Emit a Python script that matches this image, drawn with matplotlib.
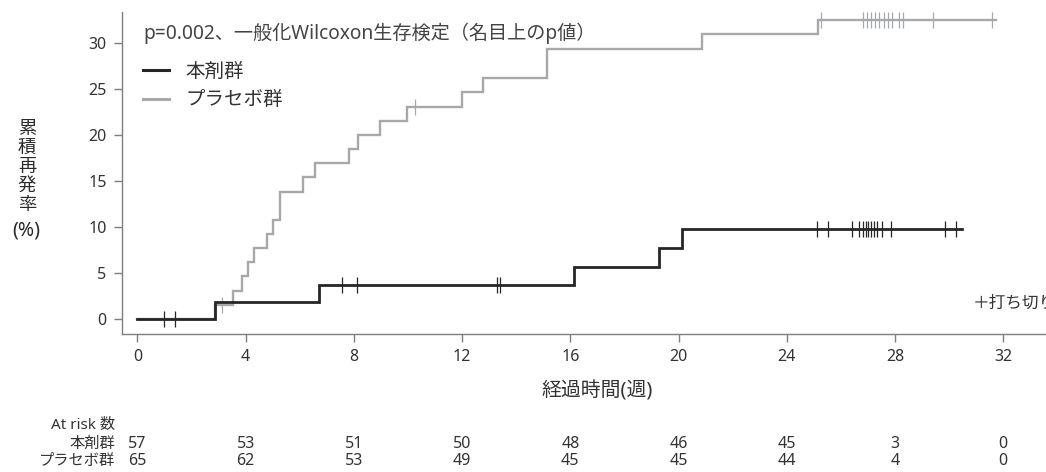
import numpy as np
import matplotlib
matplotlib.use('Agg')
import matplotlib.pyplot as plt
import matplotlib.transforms as mtransforms
from matplotlib.lines import Line2D

plt.rcParams['font.family'] = ['Noto Sans', 'Noto Sans CJK JP', 'DejaVu Sans']

# Kaplan-Meier style cumulative relapse curves (weeks, %)
drug_times = [0, 2.87, 6.71, 16.13, 19.27, 20.14]
drug_levels = [0, 1.82, 3.67, 5.68, 7.73, 9.78]
drug_end = 30.47
drug_censor = [1.0, 1.40, 7.55, 8.11, 13.28, 13.40, 25.11, 25.54, 26.40,
               26.67, 26.81, 26.91, 27.02, 27.12, 27.23, 27.34, 27.51, 27.85,
               29.85, 30.27]

placebo_times = [0, 2.87, 3.55, 3.86, 4.10, 4.31, 4.80, 5.00, 5.27, 6.13,
                 6.57, 7.83, 8.14, 8.97, 9.96, 11.99, 12.79, 15.13, 20.86, 25.15]
placebo_levels = [0, 1.54, 3.08, 4.68, 6.20, 7.72, 9.26, 10.80, 13.86, 15.40,
                  16.94, 18.48, 20.02, 21.56, 23.10, 24.65, 26.20, 29.35, 31.00, 32.50]
placebo_end = 31.75
placebo_censor = [3.12, 10.26, 25.27, 26.83, 26.97, 27.12, 27.27, 27.42, 27.58,
                  27.73, 27.88, 28.13, 28.29, 29.42, 31.58]

risk_weeks = [0, 4, 8, 12, 16, 20, 24, 28, 32]
drug_at_risk = [57, 53, 51, 50, 48, 46, 45, 3, 0]
placebo_at_risk = [65, 62, 53, 49, 45, 45, 44, 4, 0]

BLACK = '#262626'
GRAY = '#a7a8ac'
AXIS = '#7f7f7f'
TEXT = '#333333'
W, H = 1046, 472


def level_at(times, levels, t):
    idx = np.searchsorted(times, t, side='right') - 1
    return np.asarray(levels)[idx]


fig = plt.figure(figsize=(W / 100, H / 100), dpi=100)
ax = fig.add_axes([0.1166, 0.2924, 0.8834, 0.6822])

for times, levels, end, cens, color, lw, z in [
        (placebo_times, placebo_levels, placebo_end, placebo_censor, GRAY, 1.7, 3),
        (drug_times, drug_levels, drug_end, drug_censor, BLACK, 2.0, 4)]:
    xs = list(times) + [end]
    ys = list(levels) + [levels[-1]]
    ax.step(xs, ys, where='post', color=color, lw=lw, zorder=z,
            solid_joinstyle='miter')
    ax.plot(cens, level_at(times, levels, cens), ls='none', marker='|',
            ms=11, mew=0.9, color=color, zorder=z + 1)

ax.set_xlim(-0.57, 33.58)
ax.set_ylim(-1.63, 33.4)
ax.set_xticks(risk_weeks)
ax.set_yticks(range(0, 31, 5))

for side in ['top', 'right']:
    ax.spines[side].set_visible(False)
for side in ['left', 'bottom']:
    ax.spines[side].set_color(AXIS)
    ax.spines[side].set_linewidth(1.0)
ax.tick_params(axis='both', colors=AXIS, labelcolor=TEXT, length=6,
               width=1.0, labelsize=11.5, pad=5)

# p-value and legend
fig.text(143 / W, 1 - 33 / H, 'p=0.002、一般化Wilcoxon生存検定（名目上のp値）',
         fontsize=13.8, color='#444444', va='center', ha='left')
handles = [Line2D([], [], color=BLACK, lw=2.2), Line2D([], [], color=GRAY, lw=2.2)]
leg = ax.legend(handles, ['本剤群', 'プラセボ群'], loc='upper left',
                bbox_to_anchor=(0.0146, 0.868),
                bbox_transform=ax.transAxes, frameon=False, fontsize=14,
                handlelength=1.35, handletextpad=0.8, labelspacing=0.42,
                borderaxespad=0)
for t in leg.get_texts():
    t.set_color(TEXT)

fig.text(973 / W, 1 - 304 / H, '＋打ち切り', fontsize=12,
         color=TEXT, va='center', ha='left')

# axis titles
fig.text(597 / W, 1 - 391 / H, '経過時間(週)', fontsize=14.3,
         color=TEXT, ha='center', va='center')
for i, ch in enumerate('累積再発率'):
    fig.text(27 / W, 1 - (129 + i * 19) / H, ch, fontsize=13.2,
             color='#2a2a2a', ha='center', va='center')
fig.text(26 / W, 1 - 230 / H, '(%)', fontsize=14,
         color='#2a2a2a', ha='center', va='center')

# number at risk table
trans = mtransforms.blended_transform_factory(ax.transData, fig.transFigure)
fig.text(115 / W, 1 - 426 / H, 'At risk 数', fontsize=11,
         color=TEXT, ha='right', va='center')
for label, counts, y in [('本剤群', drug_at_risk, 444),
                         ('プラセボ群', placebo_at_risk, 461)]:
    fig.text(115 / W, 1 - y / H, label, fontsize=11, color=TEXT,
             ha='right', va='center')
    for wk, n in zip(risk_weeks, counts):
        ax.text(wk, 1 - y / H, str(n), transform=trans, fontsize=11.5,
                color=TEXT, ha='center', va='center', clip_on=False)

fig.savefig('out.png', dpi=100)
